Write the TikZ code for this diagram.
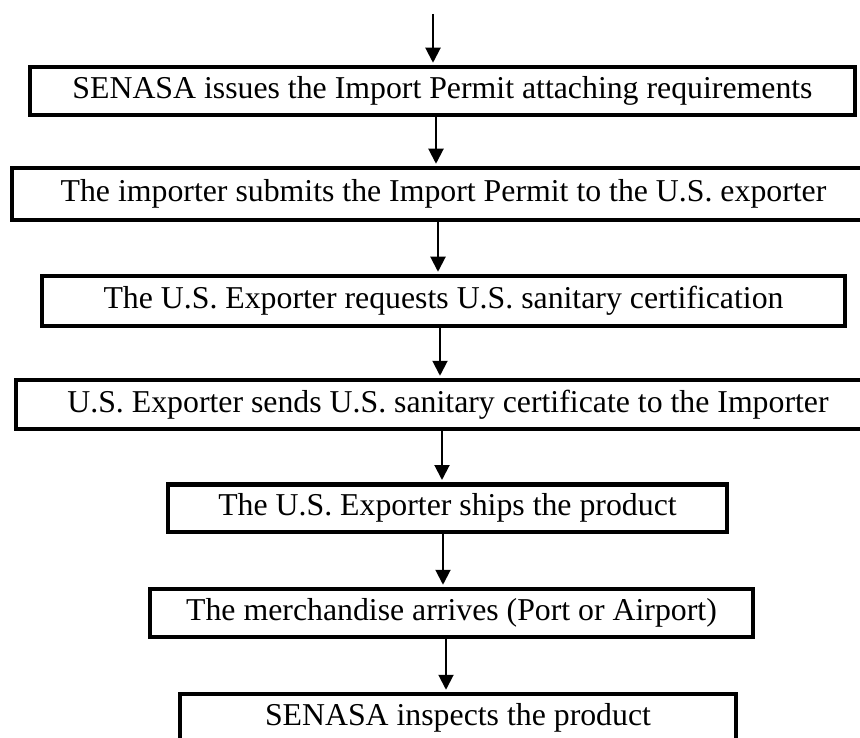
\documentclass[tikz,border=0pt]{standalone}
\usepackage{fontspec}
\setmainfont{Liberation Serif}
\usetikzlibrary{arrows.meta}
\begin{document}
\begin{tikzpicture}[x=1pt,y=-1pt,
  stepbox/.style={draw, line width=4.5pt, rectangle, inner sep=0pt,
    font=\fontsize{31.8}{38}\selectfont, text height=22pt, text depth=7pt},
  flow/.style={-{Triangle[length=15pt,width=15pt]}, line width=2pt, shorten >=2pt}]
\useasboundingbox (0,0) rectangle (860,738);
\clip (0,0) rectangle (860,738);
\node[stepbox, minimum width=825pt, minimum height=48pt] (b1) at (442.5,91)
  {SENASA issues the Import Permit attaching requirements};
\node[stepbox, minimum width=863pt, minimum height=52pt] (b2) at (443.5,194)
  {The importer submits the Import Permit to the U.S. exporter};
\node[stepbox, minimum width=803pt, minimum height=50pt] (b3) at (443.5,301)
  {The U.S. Exporter requests U.S. sanitary certification};
\node[stepbox, minimum width=864pt, minimum height=49pt] (b4) at (448,404.5)
  {U.S. Exporter sends U.S. sanitary certificate to the Importer};
\node[stepbox, minimum width=559pt, minimum height=47.5pt] (b5) at (447.5,508)
  {The U.S. Exporter ships the product};
\node[stepbox, minimum width=603pt, minimum height=48pt] (b6) at (451.5,613)
  {The merchandise arrives (Port or Airport)};
\node[stepbox, minimum width=556pt, minimum height=48pt] (b7) at (458,718)
  {SENASA inspects the product};
\coordinate (top) at (433,14);
\draw[flow] (top) -- (top |- b1.north);
\draw[flow] (b1.south -| 436,0) -- (b2.north -| 436,0);
\draw[flow] (b2.south -| 438,0) -- (b3.north -| 438,0);
\draw[flow] (b3.south -| 440,0) -- (b4.north -| 440,0);
\draw[flow] (b4.south -| 442,0) -- (b5.north -| 442,0);
\draw[flow] (b5.south -| 443,0) -- (b6.north -| 443,0);
\draw[flow] (b6.south -| 446,0) -- (b7.north -| 446,0);
\end{tikzpicture}
\end{document}
